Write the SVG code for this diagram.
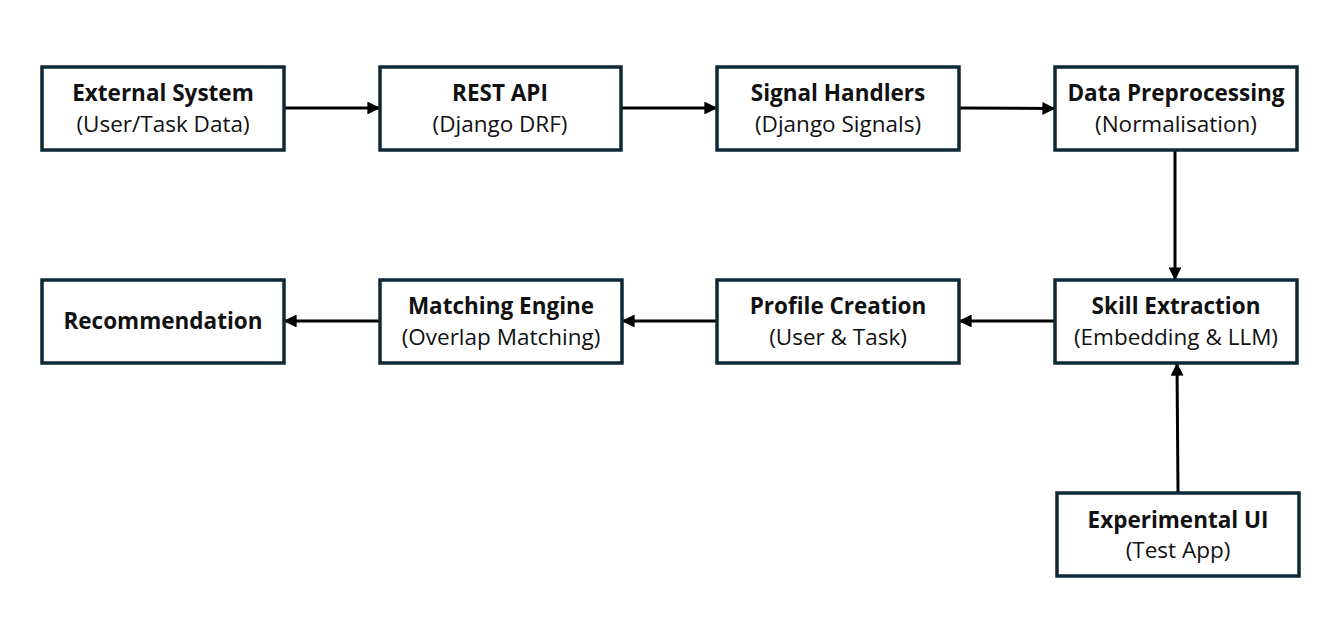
<svg xmlns="http://www.w3.org/2000/svg" width="1343" height="632" viewBox="0 0 1343 632">
<defs>
<style>
.box{fill:#fff;stroke:#0e2838;stroke-width:3.5}
.t{font-family:"Open Sans","Noto Sans",sans-serif;font-size:22.5px;fill:#111;text-anchor:middle}
.b{font-weight:bold}
.c{stroke:#000;stroke-width:3;fill:none;marker-end:url(#ah)}
</style>
<marker id="ah" viewBox="0 0 10 10" refX="9" refY="5" markerWidth="4.3" markerHeight="4.3" orient="auto" markerUnits="strokeWidth">
<path d="M0,0 L10,5 L0,10 z" fill="#000"/>
</marker>
</defs>
<rect width="1343" height="632" fill="#fff"/>
<g id="connectors">
<path class="c" d="M285,108 L379,108"/>
<path class="c" d="M622,108 L716,108"/>
<path class="c" d="M960,108 L1054,108.5"/>
<path class="c" d="M1175,151 L1175,279"/>
<path class="c" d="M1054,321 L960,321"/>
<path class="c" d="M716,321 L623,321"/>
<path class="c" d="M379,321 L285,321"/>
<path class="c" d="M1178,492 L1177,364"/>
</g>
<g id="external-system"><rect class="box" x="42" y="67" width="242" height="83"/><text class="t b" x="163" y="101">External System</text><text class="t" x="163" y="132">(User/Task Data)</text></g>
<g id="rest-api"><rect class="box" x="380" y="67" width="241" height="83"/><text class="t b" x="500" y="101">REST API</text><text class="t" x="500" y="132">(Django DRF)</text></g>
<g id="signal-handlers"><rect class="box" x="717" y="67" width="242" height="83"/><text class="t b" x="838" y="101">Signal Handlers</text><text class="t" x="838" y="132">(Django Signals)</text></g>
<g id="data-preprocessing"><rect class="box" x="1055" y="67" width="242" height="83"/><text class="t b" x="1176" y="101">Data Preprocessing</text><text class="t" x="1176" y="132">(Normalisation)</text></g>
<g id="skill-extraction"><rect class="box" x="1055" y="280" width="242" height="83"/><text class="t b" x="1176" y="314">Skill Extraction</text><text class="t" x="1176" y="345">(Embedding &amp; LLM)</text></g>
<g id="profile-creation"><rect class="box" x="717" y="280" width="242" height="83"/><text class="t b" x="838" y="314">Profile Creation</text><text class="t" x="838" y="345">(User &amp; Task)</text></g>
<g id="matching-engine"><rect class="box" x="380" y="280" width="242" height="83"/><text class="t b" x="501" y="314">Matching Engine</text><text class="t" x="501" y="345">(Overlap Matching)</text></g>
<g id="recommendation"><rect class="box" x="42" y="280" width="242" height="83"/><text class="t b" x="163" y="329">Recommendation</text></g>
<g id="experimental-ui"><rect class="box" x="1057" y="493" width="242" height="83"/><text class="t b" x="1178" y="528">Experimental UI</text><text class="t" x="1178" y="558">(Test App)</text></g>
</svg>
